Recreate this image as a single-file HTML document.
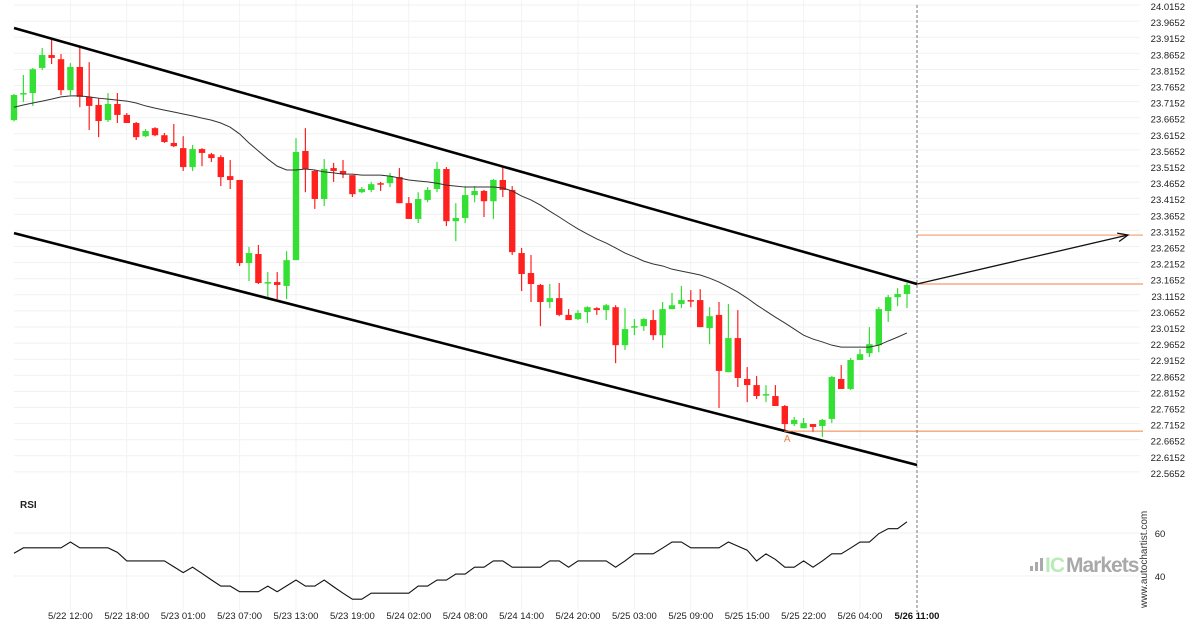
<!DOCTYPE html>
<html><head><meta charset="utf-8">
<style>
html,body{margin:0;padding:0;background:#fff;}
svg{display:block;font-family:"Liberation Sans",sans-serif;}
</style></head>
<body>
<svg id="chart" width="1200" height="630" viewBox="0 0 1200 630" xmlns="http://www.w3.org/2000/svg">
<g id="grid"></g>
<g id="yaxis"></g>
<g id="xaxis"></g>
<g id="rsiaxis"></g>
<g id="candles"></g>
<g id="overlay"></g>
<text x="20" y="508" font-size="10" font-weight="bold" fill="#222">RSI</text>
<g>
<rect x="1030" y="566" width="3" height="5" fill="#aaa"/><rect x="1035" y="562" width="3" height="9" fill="#aaa"/><rect x="1040" y="558" width="3" height="13" fill="#aaa"/>
<text x="1045" y="572" font-size="21" fill="#b9ebb9" font-weight="bold" letter-spacing="-1">IC</text>
<text x="1066" y="572" font-size="21" fill="#a9a9a9" font-weight="bold" letter-spacing="-1">Markets</text>
</g>
<text transform="translate(1147,608) rotate(-90)" font-size="10" fill="#333">www.autochartist.com</text>
</svg>
<script>
const opens=[23.664,23.745,23.748,23.826,23.866,23.853,23.757,23.829,23.736,23.711,23.664,23.714,23.680,23.655,23.614,23.639,23.617,23.593,23.577,23.518,23.574,23.558,23.549,23.490,23.478,23.220,23.248,23.158,23.161,23.149,23.229,23.568,23.506,23.419,23.515,23.506,23.493,23.440,23.447,23.468,23.468,23.487,23.406,23.357,23.416,23.450,23.512,23.350,23.360,23.431,23.444,23.412,23.478,23.447,23.251,23.189,23.152,23.099,23.111,23.059,23.046,23.068,23.080,23.074,23.083,22.965,23.021,23.024,23.043,22.996,23.077,23.093,23.105,23.105,23.018,23.059,22.881,22.987,22.860,22.841,22.810,22.807,22.776,22.720,22.707,22.720,22.714,22.736,22.860,22.829,22.919,22.940,22.965,23.071,23.114,23.124];
const highs=[23.745,23.804,23.826,23.888,23.919,23.869,23.841,23.891,23.844,23.732,23.748,23.748,23.686,23.658,23.636,23.642,23.624,23.652,23.614,23.587,23.577,23.562,23.555,23.540,23.478,23.270,23.276,23.192,23.192,23.257,23.608,23.639,23.509,23.543,23.531,23.540,23.493,23.456,23.472,23.472,23.500,23.515,23.425,23.440,23.456,23.534,23.518,23.406,23.459,23.459,23.447,23.481,23.518,23.459,23.267,23.245,23.155,23.155,23.158,23.077,23.074,23.086,23.083,23.093,23.089,23.080,23.046,23.049,23.074,23.099,23.127,23.149,23.136,23.139,23.083,23.099,23.093,23.074,22.897,22.869,22.841,22.841,22.779,22.742,22.739,22.720,22.736,22.869,22.903,22.925,22.953,23.021,23.083,23.121,23.142,23.158];
const lows=[23.660,23.720,23.708,23.819,23.838,23.742,23.742,23.704,23.633,23.611,23.658,23.655,23.655,23.602,23.611,23.614,23.593,23.580,23.506,23.506,23.521,23.534,23.459,23.450,23.211,23.164,23.155,23.114,23.108,23.108,23.229,23.440,23.388,23.397,23.472,23.484,23.425,23.437,23.440,23.444,23.456,23.406,23.357,23.344,23.409,23.440,23.335,23.288,23.344,23.409,23.363,23.357,23.425,23.245,23.133,23.099,23.024,23.080,23.055,23.043,23.043,23.034,23.059,23.043,22.909,22.950,22.996,23.009,22.981,22.956,23.077,23.080,23.083,23.021,22.968,22.770,22.881,22.835,22.788,22.798,22.788,22.776,22.695,22.714,22.707,22.695,22.680,22.723,22.829,22.826,22.919,22.928,22.943,23.037,23.086,23.080];
const closes=[23.742,23.748,23.822,23.866,23.857,23.757,23.829,23.736,23.708,23.661,23.714,23.680,23.655,23.611,23.630,23.617,23.596,23.583,23.518,23.574,23.562,23.546,23.487,23.478,23.220,23.251,23.158,23.161,23.152,23.229,23.565,23.512,23.419,23.512,23.506,23.496,23.434,23.450,23.465,23.465,23.490,23.406,23.357,23.419,23.447,23.512,23.350,23.360,23.431,23.444,23.412,23.478,23.447,23.254,23.186,23.155,23.099,23.111,23.059,23.043,23.065,23.083,23.074,23.089,22.965,23.015,23.024,23.046,22.996,23.077,23.089,23.105,23.104,23.021,23.055,22.885,22.987,22.863,22.841,22.807,22.813,22.776,22.720,22.733,22.723,22.711,22.733,22.866,22.829,22.919,22.937,22.968,23.077,23.114,23.124,23.152];
const maValues=[23.704,23.711,23.717,23.723,23.729,23.736,23.739,23.739,23.736,23.732,23.729,23.726,23.723,23.717,23.708,23.701,23.695,23.689,23.683,23.677,23.670,23.664,23.655,23.642,23.621,23.593,23.568,23.543,23.521,23.509,23.509,23.512,23.509,23.503,23.500,23.496,23.496,23.493,23.493,23.493,23.490,23.484,23.478,23.475,23.472,23.468,23.462,23.459,23.456,23.456,23.456,23.456,23.453,23.444,23.428,23.416,23.400,23.381,23.363,23.344,23.326,23.310,23.295,23.282,23.267,23.251,23.239,23.226,23.217,23.211,23.201,23.195,23.189,23.183,23.173,23.161,23.146,23.130,23.111,23.090,23.071,23.052,23.034,23.015,22.996,22.984,22.975,22.965,22.959,22.959,22.959,22.959,22.965,22.978,22.990,23.003];
const rsiValues=[50.6,53.1,53.1,53.1,53.1,53.1,55.8,53.1,53.1,53.1,53.1,51.0,47.0,47.0,47.0,47.0,47.0,44.3,41.6,44.1,41.2,38.2,35.3,35.3,32.7,32.7,32.7,35.3,32.7,35.4,38.1,35.3,35.3,38.1,35.0,32.0,29.2,29.2,32.0,32.0,32.0,32.0,32.0,35.3,35.3,38.1,38.1,40.9,40.9,44.1,44.1,47.0,47.0,44.1,44.1,44.1,44.1,47.0,47.0,44.1,47.0,47.0,47.0,47.0,44.1,47.0,50.3,50.3,50.3,53.0,55.8,55.8,53.1,53.1,53.1,53.1,55.8,53.9,52.0,47.0,50.3,47.7,44.1,44.1,47.0,44.1,47.0,50.3,50.3,53.0,55.8,55.8,59.7,62.0,62.0,65.2];
const priceTicks=[24.0152,23.9652,23.9152,23.8652,23.8152,23.7652,23.7152,23.6652,23.6152,23.5652,23.5152,23.4652,23.4152,23.3652,23.3152,23.2652,23.2152,23.1652,23.1152,23.0652,23.0152,22.9652,22.9152,22.8652,22.8152,22.7652,22.7152,22.6652,22.6152,22.5652];
const timeLabels=["5/22 12:00","5/22 18:00","5/23 01:00","5/23 07:00","5/23 13:00","5/23 19:00","5/24 02:00","5/24 08:00","5/24 14:00","5/24 20:00","5/25 03:00","5/25 09:00","5/25 15:00","5/25 22:00","5/26 04:00"];
const timeLabelIdx=[6,12,18,24,30,36,42,48,54,60,66,72,78,84,90];
const rsiTicks=[60,40];
const upperChannel=[23.950,23.155];
const lowerChannel=[23.313,22.593];
const targetPrice=23.307;
const breakoutPrice=23.155;
const pointAPrice=22.698;
const pointAIdx=83;

const NS="http://www.w3.org/2000/svg";
const X=i=>14+9.4*i;
const Y=p=>329+(23.0152-p)*322;
const RY=v=>576-(v-40)*2.15;
const XEND=917;
function mk(tag,attrs,parent){const e=document.createElementNS(NS,tag);for(const k in attrs)e.setAttribute(k,attrs[k]);parent.appendChild(e);return e;}
const grid=document.getElementById('grid'),ya=document.getElementById('yaxis'),xa=document.getElementById('xaxis'),ra=document.getElementById('rsiaxis'),cg=document.getElementById('candles'),ov=document.getElementById('overlay');

priceTicks.forEach(p=>{
  const y=Y(p)-2;
  const l=mk('line',{x1:14,x2:1140,y1:y,y2:y,stroke:'#f1f1f1','stroke-width':1},grid);
  
  
  const t=mk('text',{x:1185,y:Y(p)+3,'font-size':9.5,'text-anchor':'end',fill:'#222'},ya);
  t.textContent=p.toFixed(4);
  
  
});
timeLabels.forEach((s,k)=>{
  const x=X(timeLabelIdx[k]);
  const l=mk('line',{x1:x,x2:x,y1:0,y2:610,stroke:'#f3f3f3','stroke-width':1},grid);
  
  
  const t=mk('text',{x:x,y:619,'font-size':9.5,'text-anchor':'middle',fill:'#222'},xa);
  t.textContent=s;
  
  
});
const tl=mk('text',{x:XEND,y:619,'font-size':9.5,'text-anchor':'middle',fill:'#111','font-weight':'bold'},xa);
tl.textContent="5/26 11:00";


rsiTicks.forEach(v=>{
  const l=mk('line',{x1:14,x2:1140,y1:RY(v),y2:RY(v),stroke:'#f1f1f1'},grid);
  
  
  const t=mk('text',{x:1160,y:RY(v)+4,'font-size':9.5,'text-anchor':'middle',fill:'#222'},ra);
  t.textContent=v;
  
  
});
const dl=mk('line',{x1:XEND,x2:XEND,y1:5,y2:612,stroke:'#777','stroke-dasharray':'3,2','stroke-width':1},grid);



opens.forEach((o,i)=>{
  const c=closes[i],up=c>=o,col=up?'#33e033':'#ff2020',x=X(i);
  const w=mk('line',{x1:x,x2:x,y1:Y(highs[i]),y2:Y(lows[i]),stroke:col,'stroke-width':1.2},cg);
  
  
  const top=Y(Math.max(o,c)),h=Math.max(1.5,Y(Math.min(o,c))-top);
  const b=mk('rect',{x:x-3.2,y:top,width:6.4,height:h,fill:col},cg);
  
  
});
const maPts=maValues.map((v,i)=>X(i)+','+Y(v)).join(' ');
const ma=mk('polyline',{points:maPts,fill:'none',stroke:'#333','stroke-width':1},ov);


const rsiPts=rsiValues.map((v,i)=>X(i)+','+RY(v)).join(' ');
const rl=mk('polyline',{points:rsiPts,fill:'none',stroke:'#111','stroke-width':1.1},ov);


const uc=mk('line',{x1:14,y1:Y(upperChannel[0]),x2:XEND,y2:Y(upperChannel[1]),stroke:'#000','stroke-width':2.6},ov);


const lc=mk('line',{x1:14,y1:Y(lowerChannel[0]),x2:XEND,y2:Y(lowerChannel[1]),stroke:'#000','stroke-width':2.6},ov);


const o1=mk('line',{x1:XEND,x2:1143,y1:Y(breakoutPrice),y2:Y(breakoutPrice),stroke:'#f08040','stroke-width':1},ov);


const o2=mk('line',{x1:XEND,x2:1143,y1:Y(targetPrice),y2:Y(targetPrice),stroke:'#f08040','stroke-width':0.8},ov);


const o3=mk('line',{x1:X(pointAIdx)-10,x2:1143,y1:Y(pointAPrice),y2:Y(pointAPrice),stroke:'#f08040','stroke-width':1},ov);


const at=mk('text',{x:X(pointAIdx)-7,y:Y(pointAPrice)+11,'font-size':10,fill:'#f08040','text-anchor':'middle'},ov);
at.textContent='A';


const ax2=1128,ay1=Y(breakoutPrice),ay2=Y(targetPrice);
const ar=mk('line',{x1:XEND,y1:ay1,x2:ax2,y2:ay2,stroke:'#111','stroke-width':1.3},ov);


const ang=Math.atan2(ay2-ay1,ax2-XEND),L=11;
const ah=mk('polyline',{points:(ax2-L*Math.cos(ang-0.4))+','+(ay2-L*Math.sin(ang-0.4))+' '+ax2+','+ay2+' '+(ax2-L*Math.cos(ang+0.4))+','+(ay2-L*Math.sin(ang+0.4)),fill:'none',stroke:'#111','stroke-width':1.3},ov);


</script>
</body></html>
